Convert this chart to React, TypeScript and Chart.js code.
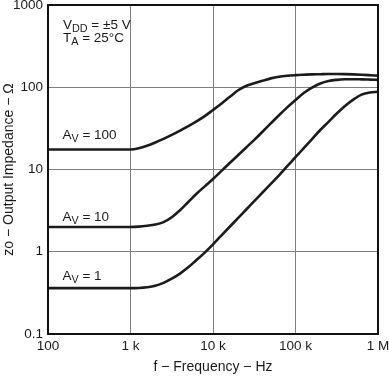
import React, { useEffect, useRef } from "react";
import { Chart, registerables } from "chart.js";

Chart.register(...registerables);

// ---- data ----
const frequencyHz = [
  100, 1000, 1259, 1585, 1995, 2512, 3162, 3981, 5012, 6310, 7943, 10000,
  12589, 15849, 19953, 25119, 31623, 39811, 50119, 63096, 79433, 100000,
  125893, 158489, 199526, 251189, 316228, 398107, 501187, 630957, 794328,
  1000000,
];
const zoAv100 = [
  17.5, 17.5, 18.1, 19.4, 21.3, 23.6, 26.4, 29.7, 33.7, 38.5, 44.6, 53.0,
  63.1, 75.9, 91.2, 103.5, 111.7, 119.7, 128.2, 134.3, 138.0, 140.3, 142.0,
  143.5, 144.2, 144.9, 144.9, 144.5, 143.5, 141.9, 140.0, 138.0,
];
const zoAv10 = [
  2.0, 2.0, 2.02, 2.07, 2.14, 2.29, 2.63, 3.2, 4.03, 5.07, 6.24, 7.67, 9.55,
  11.9, 14.8, 18.4, 22.9, 28.8, 36.3, 45.7, 56.9, 70.0, 85.1, 98.9, 111, 119,
  123, 125, 125.3, 124.7, 123.9, 123,
];
const zoAv1 = [
  0.361, 0.361, 0.363, 0.37, 0.385, 0.419, 0.47, 0.543, 0.646, 0.794, 0.977,
  1.23, 1.57, 2.0, 2.54, 3.24, 4.12, 5.25, 6.68, 8.51, 11.0, 14.1, 18.2, 23.4,
  30.2, 38.0, 47.9, 59.2, 70.8, 81.3, 86.5, 88.1,
];
const seriesGains = ["100", "10", "1"];

const xTickValues = [100, 1000, 10000, 100000, 1000000];
const xTickLabels = ["100", "1 k", "10 k", "100 k", "1 M"];
const yTickValues = [0.1, 1, 10, 100, 1000];
const yTickLabels = ["0.1", "1", "10", "100", "1000"];

const FONT = "'Liberation Sans', Arial, Helvetica, sans-serif";
const LINE = "#1c1a1a";

type Part = { t: string; sub?: boolean };

function drawRich(ctx: CanvasRenderingContext2D, x: number, y: number, parts: Part[], size: number) {
  let cx = x;
  ctx.textBaseline = "alphabetic";
  ctx.textAlign = "left";
  ctx.fillStyle = "#1a1a1a";
  for (const p of parts) {
    const fs = p.sub ? size * 0.8 : size;
    ctx.font = `${fs}px ${FONT}`;
    ctx.fillText(p.t, cx, p.sub ? y + size * 0.25 : y);
    cx += ctx.measureText(p.t).width;
  }
}

const annotationPlugin = {
  id: "annot",
  afterDraw(chart: any) {
    const { ctx, chartArea } = chart;
    const { left, top, right, bottom } = chartArea;
    ctx.save();
    ctx.strokeStyle = "#111";
    ctx.lineWidth = 2;
    ctx.strokeRect(left, top, right - left, bottom - top);
    drawRich(ctx, left + 15, 29, [{ t: "V" }, { t: "DD", sub: true }, { t: " = ±5 V" }], 13.5);
    drawRich(ctx, left + 15, 41.5, [{ t: "T" }, { t: "A", sub: true }, { t: " = 25°C" }], 13.5);
    const ys = [138.5, 220.5, 280];
    ys.forEach((yy, i) => {
      drawRich(ctx, left + 14.5, yy, [{ t: "A" }, { t: "V", sub: true }, { t: " = " + seriesGains[i] }], 13.5);
    });
    ctx.restore();
  },
};

function resetPad(s: any) {
  s.paddingTop = 0;
  s.paddingBottom = 0;
  s.paddingLeft = 0;
  s.paddingRight = 0;
}

export default function App() {
  const ref = useRef<HTMLCanvasElement | null>(null);
  useEffect(() => {
    if (!ref.current) return;
    const mk = (vals: number[]) => frequencyHz.map((f, i) => ({ x: f, y: vals[i] }));
    const chart = new Chart(ref.current, {
      type: "line",
      data: {
        datasets: [zoAv100, zoAv10, zoAv1].map((v, i) => ({
          label: "AV = " + seriesGains[i],
          data: mk(v),
          borderColor: LINE,
          borderWidth: 2.6,
          pointRadius: 0,
          fill: false,
          cubicInterpolationMode: "monotone" as const,
        })),
      },
      options: {
        responsive: false,
        animation: false,
        devicePixelRatio: 1,
        layout: { padding: { left: 0, right: 11, top: 5, bottom: 0 } },
        plugins: { legend: { display: false }, tooltip: { enabled: false } },
        scales: {
          x: {
            type: "logarithmic",
            min: 100,
            max: 1000000,
            afterBuildTicks: (s: any) => {
              s.ticks = xTickValues.map((v) => ({ value: v }));
            },
            afterFit: (s: any) => {
              s.height = 43;
              resetPad(s);
            },
            ticks: {
              autoSkip: false,
              maxRotation: 0,
              padding: 4,
              color: "#1a1a1a",
              font: { family: FONT, size: 13.5 },
              callback: (v: any) => {
                const i = xTickValues.indexOf(Number(v));
                return i >= 0 ? xTickLabels[i] : "";
              },
            },
            grid: { color: "#7f7f7f", lineWidth: 1, drawTicks: false },
            border: { display: false },
            title: {
              display: true,
              text: "f − Frequency − Hz",
              color: "#1a1a1a",
              font: { family: FONT, size: 14 },
              padding: { top: 0, bottom: 1 },
            },
          },
          y: {
            type: "logarithmic",
            min: 0.1,
            max: 1000,
            afterBuildTicks: (s: any) => {
              s.ticks = yTickValues.map((v) => ({ value: v }));
            },
            afterFit: (s: any) => {
              s.width = 48;
              resetPad(s);
            },
            ticks: {
              autoSkip: false,
              padding: 5,
              color: "#1a1a1a",
              font: { family: FONT, size: 13.5 },
              callback: (v: any) => {
                const i = yTickValues.findIndex((t) => Math.abs(t - Number(v)) / t < 1e-6);
                return i >= 0 ? yTickLabels[i] : "";
              },
            },
            grid: { color: "#7f7f7f", lineWidth: 1, drawTicks: false },
            border: { display: false },
            title: {
              display: true,
              text: "zo − Output Impedance − Ω",
              color: "#1a1a1a",
              font: { family: FONT, size: 14 },
              padding: { top: 1, bottom: 0 },
            },
          },
        },
      },
      plugins: [annotationPlugin],
    } as any);
    return () => chart.destroy();
  }, []);
  return (
    <div style={{ position: "absolute", left: 0, top: 0, width: 389, height: 377 }}>
      <canvas ref={ref} width={389} height={377} />
    </div>
  );
}
